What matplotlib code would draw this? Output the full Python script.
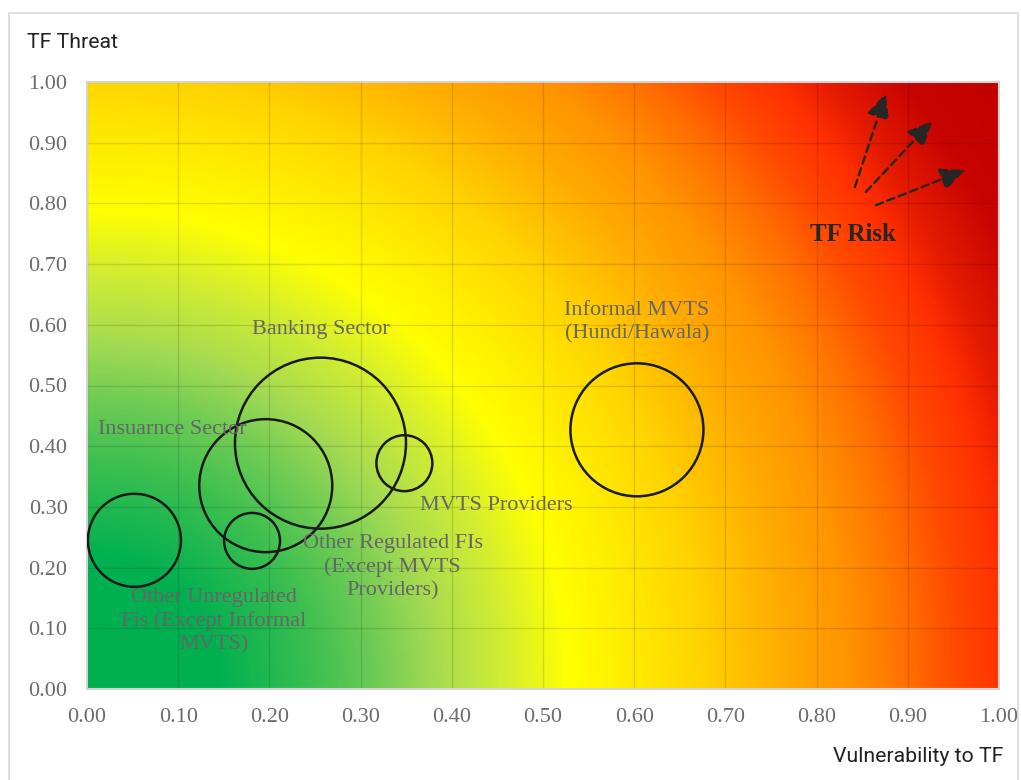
import matplotlib
matplotlib.use('Agg')
import matplotlib.pyplot as plt
import numpy as np
from matplotlib.colors import LinearSegmentedColormap
from matplotlib.patches import Rectangle

# bubble data
sectors = ['Banking Sector', 'Insuarnce Sector', 'MVTS Providers',
           'Other Regulated FIs\n(Except MVTS\nProviders)',
           'Other Unregulated\nFis (Except Informal\nMVTS)',
           'Informal MVTS\n(Hundi/Hawala)']
vulnerability = [0.256, 0.196, 0.348, 0.181, 0.052, 0.603]
threat = [0.405, 0.335, 0.372, 0.244, 0.245, 0.427]
bubble_size = [1.00, 0.605, 0.107, 0.107, 0.296, 0.605]

# label anchor points (data coords) for each sector
label_x = [0.256, 0.094, 0.449, 0.335, 0.139, 0.603]
label_y = [0.593, 0.428, 0.303, 0.201, 0.112, 0.605]

ticks = [0.0, 0.1, 0.2, 0.3, 0.4, 0.5, 0.6, 0.7, 0.8, 0.9, 1.0]

# background gradient stops (pixel distance from origin, out of the diagonal)
grad_pos = [0, 130, 230, 290, 345, 420, 480, 560, 610, 700, 760, 820, 870, 920, 960, 1020, 1095]
grad_col = ['#00B050', '#00B050', '#40C050', '#70CC55', '#A4DA52', '#D4EE30', '#FFFF00',
            '#FFE600', '#FFD500', '#FFAA00', '#FF9400', '#FF7000', '#FF4A00', '#FF3000',
            '#E41A00', '#C80400', '#C00000']

fig = plt.figure(figsize=(10.21, 7.80), dpi=100)
fig.patches.append(Rectangle((9 / 1021, -0.05), 1009 / 1021, 1.05 - 13 / 780,
                             transform=fig.transFigure, fill=False,
                             edgecolor='#DADADA', lw=1.2))

ax = fig.add_axes([87 / 1021, 1 - 689 / 780, 912 / 1021, 607 / 780])

W, H = 912, 607
gx, gy = np.meshgrid(np.linspace(0, W, 456), np.linspace(0, H, 304))
dist = np.sqrt(gx ** 2 + gy ** 2) / np.sqrt(W ** 2 + H ** 2)
cmap = LinearSegmentedColormap.from_list(
    'risk', list(zip([p / 1095 for p in grad_pos], grad_col)))
ax.imshow(dist, cmap=cmap, vmin=0, vmax=1, origin='lower',
          extent=[0, 1, 0, 1], aspect='auto', zorder=0, interpolation='bilinear')

ax.set_xlim(0, 1)
ax.set_ylim(0, 1)
ax.set_xticks(ticks)
ax.set_yticks(ticks)
ax.set_xticklabels(['%.2f' % t for t in ticks])
ax.set_yticklabels(['%.2f' % t for t in ticks])
ax.grid(True, color='#000000', alpha=0.12, lw=1)
ax.tick_params(length=0, labelsize=16, labelcolor='#6B6B6B')
ax.tick_params(axis='x', pad=14)
ax.tick_params(axis='y', pad=14)
for lab in ax.get_xticklabels() + ax.get_yticklabels():
    lab.set_fontfamily('Liberation Serif')
for sp in ax.spines.values():
    sp.set_color('#D4D4D4')
    sp.set_linewidth(1.5)

scale = (171 * 0.72) ** 2
ax.scatter(vulnerability, threat, s=[b * scale for b in bubble_size],
           facecolors='none', edgecolors='#1A1A1A', linewidths=1.8, zorder=3)

for name, lx, ly in zip(sectors, label_x, label_y):
    ax.text(lx, ly, name, ha='center', va='center', fontsize=16,
            family='Liberation Serif', color='#666666', linespacing=1.3, zorder=4)

# TF Risk annotation with arrows
ax.text(0.84, 0.748, 'TF Risk', ha='center', va='center', fontsize=18,
        fontweight='bold', family='Liberation Serif', color='#262626', zorder=4)
arrow_start = [(0.842, 0.827), (0.854, 0.819), (0.865, 0.797)]
arrow_end = [(0.876, 0.982), (0.927, 0.936), (0.963, 0.855)]
for st, en in zip(arrow_start, arrow_end):
    ax.annotate('', xy=en, xytext=st,
                arrowprops=dict(arrowstyle='-|>,head_length=1.1,head_width=0.5',
                                mutation_scale=14, color='#262626', lw=1.7,
                                linestyle=(0, (3.2, 2.0)), shrinkA=0, shrinkB=0),
                zorder=4)

fig.text(27 / 1021, 1 - 42 / 780, 'TF Threat', ha='left', va='center',
         fontsize=15.3, family='Roboto', color='#212121')
fig.text(1003 / 1021, 1 - 757 / 780, 'Vulnerability to TF', ha='right', va='center',
         fontsize=15.3, family='Roboto', color='#212121')

fig.savefig('out.png', dpi=100)
